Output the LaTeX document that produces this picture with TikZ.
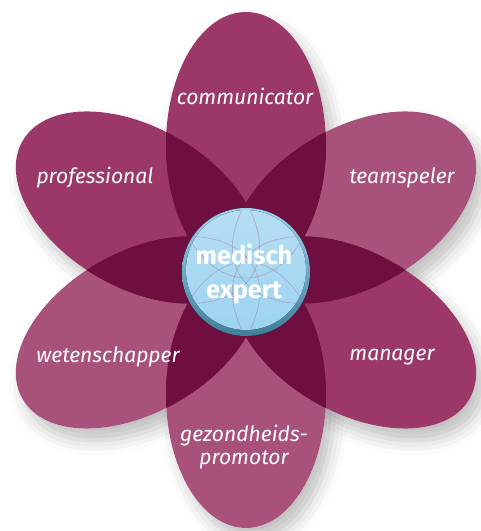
\documentclass[tikz,border=0pt]{standalone}
\usepackage{fontspec}
\setmainfont{Fira Sans}
\usetikzlibrary{shadows.blur}

\definecolor{petaldark}{HTML}{9B3868}
\definecolor{petallight}{HTML}{A8517A}
\definecolor{petalover}{HTML}{6E0F40}
\definecolor{ballface}{HTML}{9DD3F0}
\definecolor{ballrim}{HTML}{3F7D99}

\tikzset{
  petal/.style={x radius=133, y radius=80, rotate=#1},
  role/.style={text=white, align=center, inner sep=0pt,
    font=\itshape\fontsize{15.8}{17}\selectfont},
  core/.style={text=white, align=center, inner sep=0pt,
    font=\bfseries\fontsize{19}{25}\selectfont},
}

\begin{document}
\begin{tikzpicture}[x=0.75pt, y=0.75pt]
    \useasboundingbox (-246,-261) rectangle (234,270);

    % soft shadow under the flower
    \foreach \a in {30,90,...,330}
        \path[fill=white, blur shadow={shadow xshift=6pt, shadow yshift=-9pt,
            shadow blur radius=11pt, shadow opacity=25}]
            (\a:125) ellipse [petal=\a];

    % petals
    \foreach \a/\c in {90/petaldark, 150/petaldark, 330/petaldark,
                       30/petallight, 210/petallight, 270/petallight}
        \fill[\c] (\a:125) ellipse [petal=\a];

    % overlaps
    \foreach \a in {30,90,...,330}{
        \begin{scope}
            \clip (\a:125) ellipse [petal=\a];
            \foreach \b in {30,90,...,330}{
                \ifnum\a=\b\else
                    \fill[petalover] (\b:125) ellipse [petal=\b];
                \fi
            }
        \end{scope}
    }

    % centre button
    \fill[top color=ballface, bottom color=ballrim] (0,-2) circle (64);
    \fill[top color=ballface!75!white, bottom color=ballface] (0,0) circle (60);
    \begin{scope}
        \clip (0,0) circle (60);
        \foreach \a in {30,90,...,330}
            \draw[petaldark, line width=0.4pt, opacity=0.35] (\a:125) ellipse [petal=\a];
    \end{scope}

    \node[core] (expert) at (-2,-4) {medisch\\expert};

    \node[role] (communicator) at (-1,174)  {communicator};
    \node[role] (professional) at (-151,92) {professional};
    \node[role] (teamspeler)   at (156,92)  {teamspeler};
    \node[role] (wetenschapper) at (-138,-87) {wetenschapper};
    \node[role] (manager)      at (146,-87) {manager};
    \node[role] (promotor)     at (-2,-177) {gezondheids-\\promotor};
\end{tikzpicture}
\end{document}
